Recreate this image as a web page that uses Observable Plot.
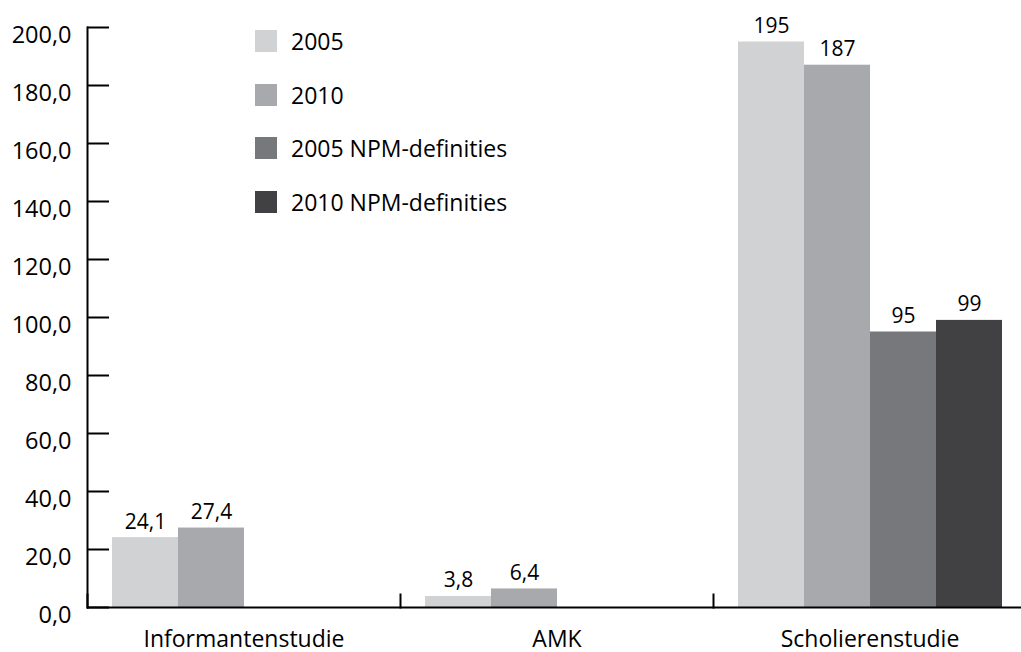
<!DOCTYPE html>
<html><head><meta charset="utf-8">
<script src="https://cdn.jsdelivr.net/npm/d3@7"></script>
<script src="https://cdn.jsdelivr.net/npm/@observablehq/plot@0.6"></script>
<style>
body{margin:0;background:#fff;}
#wrap{position:relative;width:1021px;height:652px;font-family:"Open Sans",sans-serif;}
#legend{position:absolute;left:255px;top:30px;}
.item{display:flex;align-items:center;height:22px;margin-bottom:31.7px;font-size:23px;color:#000;white-space:nowrap;}
.sw{width:22px;height:22px;margin-right:14px;flex:none;}
</style></head><body><div id="wrap"><div id="legend"></div></div>
<script>
const groups = ["Informantenstudie", "AMK", "Scholierenstudie"];
const series = ["2005", "2010", "2005 NPM-definities", "2010 NPM-definities"];
const colors = ["#d1d2d4", "#a7a9ac", "#77787b", "#414042"];
const values2005 = [24.1, 3.8, 195];
const values2010 = [27.4, 6.4, 187];
const valuesNpm2005 = [null, null, 95];
const valuesNpm2010 = [null, null, 99];
const yTicks = [0, 20, 40, 60, 80, 100, 120, 140, 160, 180, 200];

const seriesValues = [values2005, values2010, valuesNpm2005, valuesNpm2010];
const rows = [];
groups.forEach((g, i) => series.forEach((s, j) => {
  const v = seriesValues[j][i];
  if (v != null) rows.push({group: g, series: s, value: v});
}));

const fmt = v => String(v).replace(".", ",");
const tickFmt = v => d3.format(".1f")(v).replace(".", ",");

const H = 652, W = 1021, mt = 27, mb = 45;
const chart = Plot.plot({
  width: W, height: H, marginTop: mt, marginBottom: mb, marginLeft: 86, marginRight: 0,
  style: {fontFamily: "Open Sans", fontSize: "22px", color: "#000", background: "#fff", overflow: "visible"},
  fx: {domain: groups, range: [86, 1027], padding: 0, label: null},
  x: {domain: series, paddingInner: 0, paddingOuter: 0.35, axis: null},
  y: {domain: [0, 200], label: null},
  color: {domain: series, range: colors},
  marks: [
    Plot.barY(rows, {fx: "group", x: "series", y: "value", fill: "series"}),
    Plot.text(rows, {fx: "group", x: "series", y: "value", text: d => fmt(d.value), dy: -9, lineAnchor: "bottom", fontSize: 21, fill: "#000"}),
    Plot.ruleY([0], {stroke: "#000", strokeWidth: 2}),
    Plot.frame({anchor: "left", facetAnchor: "left", stroke: "#000", strokeWidth: 2}),
    Plot.frame({anchor: "left", insetTop: H - mt - mb - 13, stroke: "#000", strokeWidth: 2}),
    Plot.axisY(yTicks, {tickSize: -22, tickFormat: () => "", stroke: "#000", strokeWidth: 2, label: null}),
    Plot.axisY(yTicks, {tickSize: 0, tickPadding: 16, tickFormat: tickFmt, dy: 8, fontSize: 23.5, fill: "#000", label: null}),
    Plot.axisFx({anchor: "bottom", tickSize: 0, tickPadding: 23, fontSize: 23, fill: "#000", label: null})
  ]
});
document.getElementById("wrap").prepend(chart);

const legend = d3.select("#legend");
series.forEach((s, i) => {
  const item = legend.append("div").attr("class", "item");
  item.append("div").attr("class", "sw").style("background", colors[i]);
  item.append("span").text(s);
});
</script>
</body></html>
